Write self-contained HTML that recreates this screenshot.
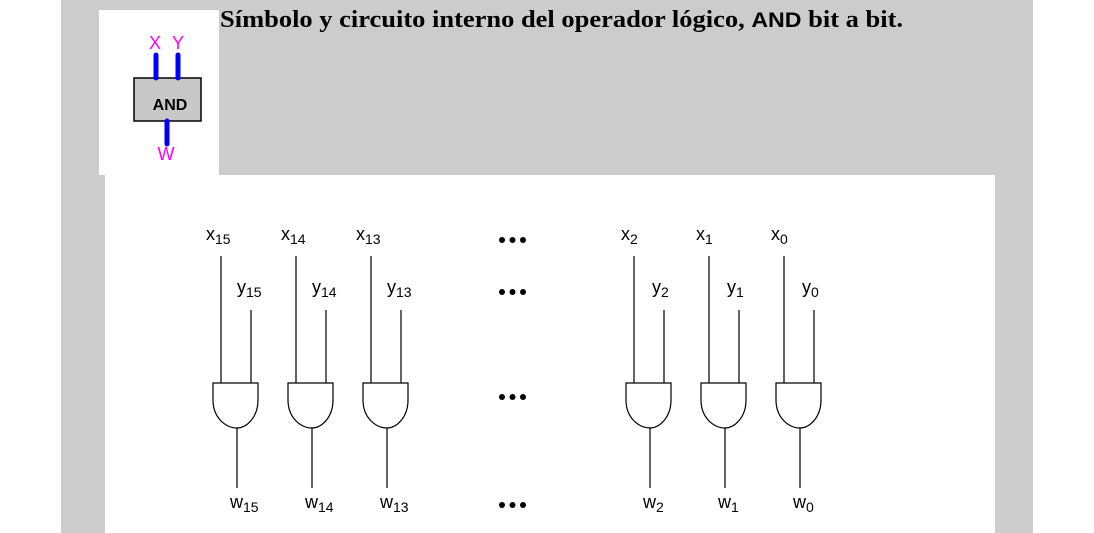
<!DOCTYPE html>
<html><head><meta charset="utf-8"><style>
html,body{margin:0;padding:0;background:#fff;}
body{width:1094px;height:533px;position:relative;overflow:hidden;}
</style></head><body>
<svg width="1094" height="533" viewBox="0 0 1094 533" xmlns="http://www.w3.org/2000/svg" style="position:absolute;left:0;top:0">
<rect x="61" y="0" width="972" height="533" fill="#cccccc"/>
<rect x="99" y="10" width="120" height="165" fill="#fff"/>
<rect x="105" y="175" width="890" height="358" fill="#fff"/>
<text x="220" y="27" textLength="683" lengthAdjust="spacingAndGlyphs" font-family="Liberation Serif, serif" font-weight="bold" font-size="24" fill="#000">Símbolo y circuito interno del operador lógico, <tspan font-family="Liberation Sans, sans-serif" font-size="21">AND</tspan> bit a bit.</text>
<!-- small symbol -->
<rect x="134" y="78" width="67" height="43" fill="#c8c8c8" stroke="#000" stroke-width="1.5"/>
<text x="170" y="110" text-anchor="middle" font-family="Liberation Sans, sans-serif" font-weight="bold" font-size="16" fill="#000">AND</text>
<g stroke="#0000ff" stroke-width="5" stroke-linecap="round">
<line x1="156" y1="55" x2="156" y2="78"/>
<line x1="178" y1="55" x2="178" y2="78"/>
<line x1="167" y1="121" x2="167" y2="144"/>
</g>
<g font-family="Liberation Sans, sans-serif" font-size="18" fill="#ff00ff" text-anchor="middle">
<text x="155" y="49">X</text><text x="178" y="49">Y</text><text x="166" y="160">W</text>
</g>
<g stroke="#000" stroke-width="1.2" fill="none">
<g id="g1">
<path d="M213 383 H258 V400 C258 418 246 428 237 428 C226 428 213 418 213 400 Z"/>
<line x1="221" y1="256" x2="221" y2="383"/><line x1="251" y1="310" x2="251" y2="383"/><line x1="237" y1="428" x2="237" y2="488"/>
</g>
<use href="#g1" x="75"/><use href="#g1" x="150"/>
<use href="#g1" x="413"/><use href="#g1" x="488"/><use href="#g1" x="563"/>
</g>
<g font-family="Liberation Sans, sans-serif" font-size="18" fill="#000">
<text x="206" y="240">x<tspan font-size="14" dy="4">15</tspan></text>
<text x="281" y="240">x<tspan font-size="14" dy="4">14</tspan></text>
<text x="356" y="240">x<tspan font-size="14" dy="4">13</tspan></text>
<text x="621" y="240">x<tspan font-size="14" dy="4">2</tspan></text>
<text x="696" y="240">x<tspan font-size="14" dy="4">1</tspan></text>
<text x="771" y="240">x<tspan font-size="14" dy="4">0</tspan></text>
<text x="237" y="293">y<tspan font-size="14" dy="4">15</tspan></text>
<text x="312" y="293">y<tspan font-size="14" dy="4">14</tspan></text>
<text x="387" y="293">y<tspan font-size="14" dy="4">13</tspan></text>
<text x="652" y="293">y<tspan font-size="14" dy="4">2</tspan></text>
<text x="727" y="293">y<tspan font-size="14" dy="4">1</tspan></text>
<text x="802" y="293">y<tspan font-size="14" dy="4">0</tspan></text>
<text x="230" y="508">w<tspan font-size="14" dy="4">15</tspan></text>
<text x="305" y="508">w<tspan font-size="14" dy="4">14</tspan></text>
<text x="380" y="508">w<tspan font-size="14" dy="4">13</tspan></text>
<text x="643" y="508">w<tspan font-size="14" dy="4">2</tspan></text>
<text x="718" y="508">w<tspan font-size="14" dy="4">1</tspan></text>
<text x="793" y="508">w<tspan font-size="14" dy="4">0</tspan></text>
</g>
<g fill="#000">
<circle cx="502" cy="240" r="3"/><circle cx="512.5" cy="240" r="3"/><circle cx="523" cy="240" r="3"/>
<circle cx="502" cy="292" r="3"/><circle cx="512.5" cy="292" r="3"/><circle cx="523" cy="292" r="3"/>
<circle cx="502" cy="397" r="3"/><circle cx="512.5" cy="397" r="3"/><circle cx="523" cy="397" r="3"/>
<circle cx="502" cy="505" r="3"/><circle cx="512.5" cy="505" r="3"/><circle cx="523" cy="505" r="3"/>
</g>
</svg>
</body></html>
